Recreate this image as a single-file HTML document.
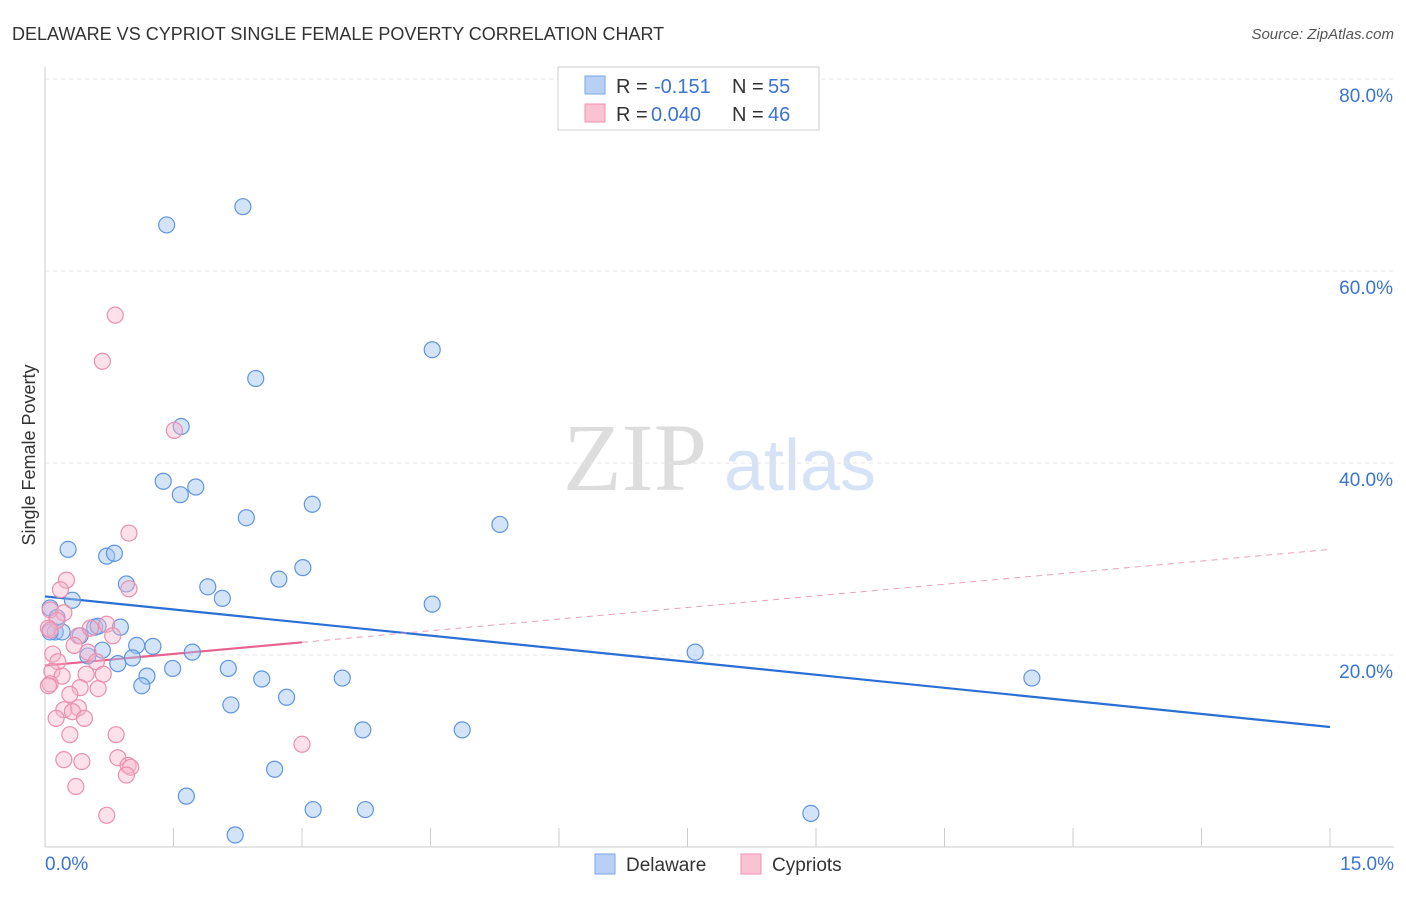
<!DOCTYPE html>
<html><head><meta charset="utf-8"><style>
body{margin:0;background:#fff;font-family:"Liberation Sans",sans-serif}
</style></head><body>
<svg id="c" width="1406" height="892" xmlns="http://www.w3.org/2000/svg">
<text x="12" y="40" font-size="18" fill="#333">DELAWARE VS CYPRIOT SINGLE FEMALE POVERTY CORRELATION CHART</text>
<text x="1394" y="39" font-size="15" fill="#555" font-style="italic" text-anchor="end">Source: ZipAtlas.com</text>
<text x="35" y="455" font-size="18" fill="#333" transform="rotate(-90 35 455)" text-anchor="middle">Single Female Poverty</text>
<g><text x="635" y="490" font-size="96" fill="#ddd" font-family="Liberation Serif" text-anchor="middle">ZIP</text><text x="800" y="490" font-size="72" fill="#d6e2f5" text-anchor="middle">atlas</text></g>
<g id="grid"></g><g id="axes"></g><g id="trend"></g><g id="pts"></g>
<g>
<rect x="558" y="67" width="261" height="63" fill="#fff" stroke="#ccc"/>
<rect x="585" y="76" width="20" height="18" fill="#b8d0f4" stroke="#7aa6e6"/>
<rect x="585" y="104" width="20" height="18" fill="#f9c3d3" stroke="#ee92ae"/>
<text x="616" y="93" font-size="20" fill="#333">R =</text><text x="654" y="93" font-size="20" fill="#3b74d1">-0.151</text>
<text x="732" y="93" font-size="20" fill="#333">N =</text><text x="768" y="93" font-size="20" fill="#3b74d1">55</text>
<text x="616" y="121" font-size="20" fill="#333">R =</text><text x="651" y="121" font-size="20" fill="#3b74d1">0.040</text>
<text x="732" y="121" font-size="20" fill="#333">N =</text><text x="768" y="121" font-size="20" fill="#3b74d1">46</text>
</g>
<g>
<rect x="595" y="854" width="20" height="20" fill="#b8d0f4" stroke="#7aa6e6"/><text x="626" y="871" font-size="19" fill="#333">Delaware</text>
<rect x="741" y="854" width="20" height="20" fill="#f9c3d3" stroke="#ee92ae"/><text x="772" y="871" font-size="19" fill="#333">Cypriots</text>
</g>
</svg>
<script>
const delX=[2.31,1.42,4.52,2.46,1.59,1.38,1.76,1.58,2.35,3.12,5.31,0.27,0.72,0.81,0.95,2.73,3.01,1.90,2.07,0.32,4.52,0.06,0.14,0.12,0.20,0.41,0.58,0.88,0.62,0.67,1.07,1.26,1.72,0.50,1.02,0.85,2.14,1.49,1.19,2.53,3.47,1.13,2.82,2.17,3.71,4.87,2.68,1.65,3.13,3.74,2.22,8.94,7.59,11.52,0.06];
const delY=[66.7,64.8,51.8,48.8,43.8,38.1,37.5,36.7,34.3,35.7,33.6,31.0,30.3,30.6,27.4,27.9,29.1,27.1,25.9,25.7,25.3,24.9,23.9,22.4,22.4,22.0,22.9,22.9,23.0,20.5,21.0,20.9,20.3,19.9,19.7,19.1,18.6,18.6,17.8,17.5,17.6,16.8,15.6,14.8,12.2,12.2,8.1,5.3,3.9,3.9,1.25,3.5,20.3,17.6,22.4];
const cypX=[0.82,0.67,1.51,0.98,0.25,0.98,0.06,0.22,0.14,0.04,0.39,0.72,0.79,0.53,0.34,0.09,0.15,0.50,0.60,0.08,0.20,0.48,0.68,0.06,0.41,0.62,0.29,0.39,0.22,0.32,0.46,0.13,0.29,0.83,3.00,0.22,0.43,0.85,0.97,1.00,0.95,0.36,0.72,0.04,0.06,0.18];
const cypY=[55.4,50.6,43.4,32.7,27.8,26.9,24.7,24.4,23.6,22.8,22.0,23.2,22.0,22.8,21.0,20.1,19.3,20.3,19.3,18.3,17.8,18.0,18.0,17.0,16.6,16.5,15.9,14.5,14.3,14.1,13.4,13.4,11.7,11.7,10.7,9.1,8.9,9.3,8.5,8.3,7.5,6.3,3.3,16.8,22.6,26.8];
const delTrend=[26.1,12.5];
const cypTrend=[18.9,31.0];
const yTicks=[20,40,60,80];
const yTickLabels=["20.0%","40.0%","60.0%","80.0%"];
const xTickVals=[0,1.5,3,4.5,6,7.5,9,10.5,12,13.5,15];
const xLabels=["0.0%","15.0%"];
const NS="http://www.w3.org/2000/svg";
const sx=v=>45+v/15*1285, sy=v=>847-v/20*192;
function mk(p,t,a){const e=document.createElementNS(NS,t);for(const k in a)e.setAttribute(k,a[k]);p.appendChild(e);return e;}
const grid=document.getElementById('grid'),axes=document.getElementById('axes'),trend=document.getElementById('trend'),pts=document.getElementById('pts');
yTicks.forEach((v,i)=>{
 const l=mk(grid,'line',{x1:45,x2:1394,y1:sy(v),y2:sy(v),stroke:'#e6e6e6','stroke-dasharray':'4 4'});
 
 
 const t=mk(axes,'text',{x:1393,y:sy(v)+23,'font-size':19,fill:'#3b74d1','text-anchor':'end'});
 t.textContent=yTickLabels[i];
 
 
});
const ya=mk(axes,'line',{x1:45,x2:45,y1:67,y2:847,stroke:'#ccc'});


const xa=mk(axes,'line',{x1:45,x2:1394,y1:847,y2:847,stroke:'#ccc'});


xTickVals.forEach(v=>{const t=mk(axes,'line',{x1:sx(v),x2:sx(v),y1:828,y2:847,stroke:'#ccc'});
 
 });
[[0,'start',45],[1,'end',1394]].forEach(([i,a,x])=>{const t=mk(axes,'text',{x:x,y:870,'font-size':19,fill:'#3b74d1','text-anchor':a});t.textContent=xLabels[i];
 
 });
const bt=mk(trend,'line',{x1:sx(0),y1:sy(delTrend[0]),x2:sx(15),y2:sy(delTrend[1]),stroke:'#2a6fd6','stroke-width':2.2});


const cAt=x=>cypTrend[0]+(cypTrend[1]-cypTrend[0])*x/15;
const pt1=mk(trend,'line',{x1:sx(0),y1:sy(cAt(0)),x2:sx(3),y2:sy(cAt(3)),stroke:'#e8628e','stroke-width':2.2});


const pt2=mk(trend,'line',{x1:sx(3),y1:sy(cAt(3)),x2:sx(15),y2:sy(cAt(15)),stroke:'#e8a0b8','stroke-width':1,'stroke-dasharray':'6 5'});


delX.forEach((x,i)=>{const c=mk(pts,'circle',{cx:sx(x),cy:sy(delY[i]),r:8,fill:'rgba(160,195,240,0.45)',stroke:'#5f95e0','stroke-width':1.2});
 
 });
cypX.forEach((x,i)=>{const c=mk(pts,'circle',{cx:sx(x),cy:sy(cypY[i]),r:8,fill:'rgba(248,180,202,0.4)',stroke:'#ec8fae','stroke-width':1.2});
 
 });
</script>
</body></html>
